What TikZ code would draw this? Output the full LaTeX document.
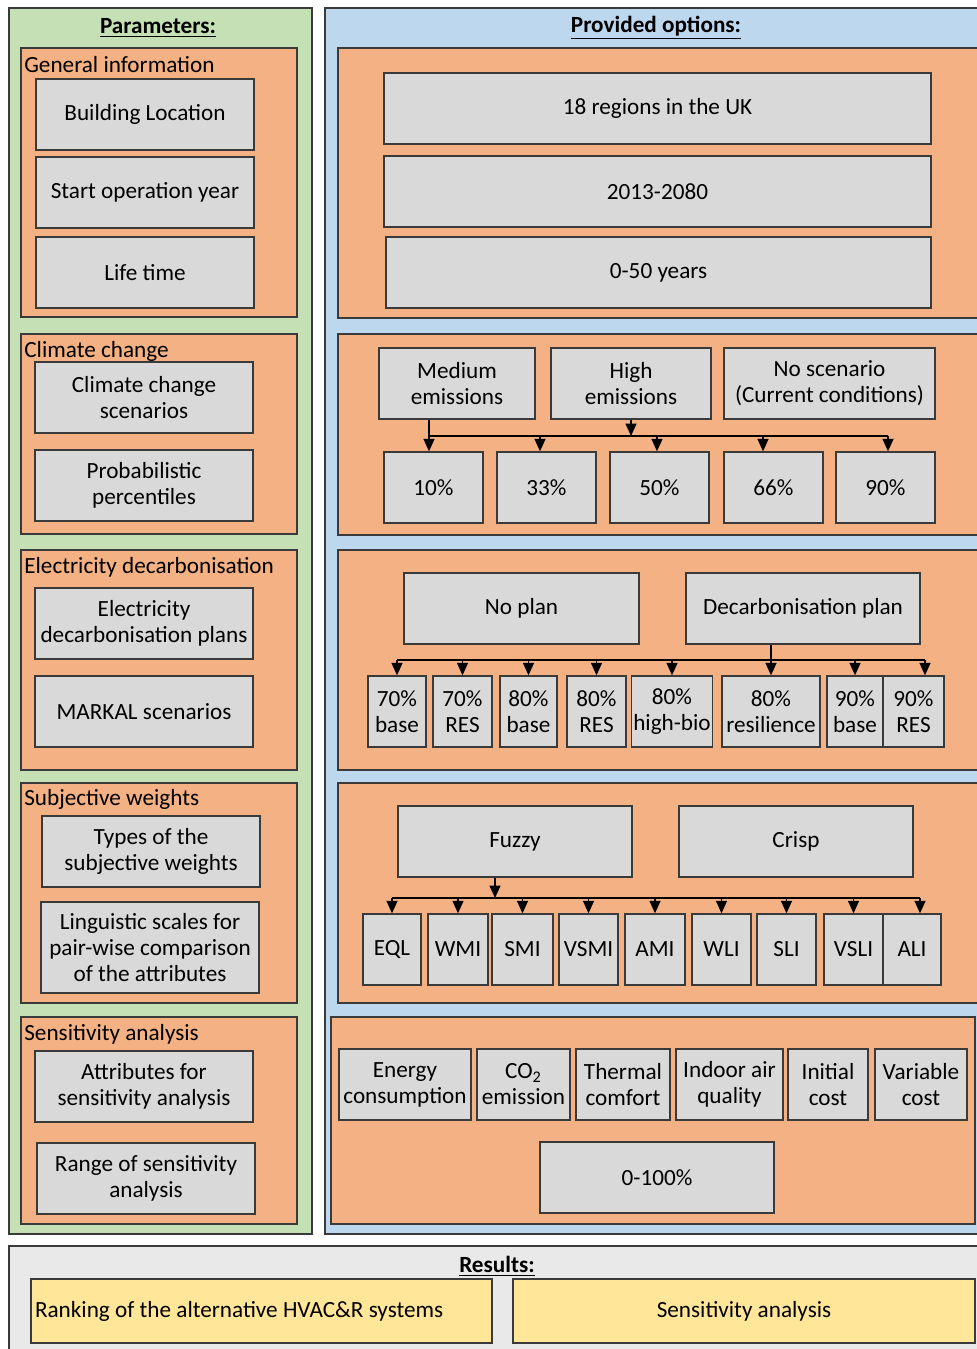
\documentclass[tikz,border=0pt]{standalone}
\usepackage{fontspec}
\setmainfont{Carlito}
\usetikzlibrary{arrows.meta, positioning}
\definecolor{paramgreen}{HTML}{C5E0B4}
\definecolor{optblue}{HTML}{BDD7EE}
\definecolor{grouporange}{HTML}{F4B183}
\definecolor{itemgray}{HTML}{D9D9D9}
\definecolor{resyellow}{HTML}{FFE699}
\definecolor{resgray}{HTML}{E9E9E9}
\definecolor{edgegray}{HTML}{3A3A3A}
\newcommand{\boxfont}{\fontsize{13.2}{14.8}\selectfont}
\tikzset{
  panel/.style={rectangle, draw=edgegray, line width=0.8pt, inner sep=0pt},
  greenpanel/.style={panel, fill=paramgreen},
  bluepanel/.style={panel, fill=optblue},
  grouppanel/.style={panel, fill=grouporange},
  itembox/.style={rectangle, draw=edgegray, line width=0.8pt, fill=itemgray, align=center, inner sep=1pt, minimum height=1.42cm},
  resbox/.style={rectangle, draw=edgegray, line width=0.8pt, fill=resyellow, minimum height=1.28cm, inner xsep=0.08cm},
  grouptitle/.style={anchor=west, inner sep=0pt},
  paneltitle/.style={font=\boxfont\bfseries, inner sep=0pt},
  bus/.style={line width=0.8pt},
  arr/.style={-{Triangle[length=2.5mm, width=2.2mm]}, line width=0.8pt},
}

\begin{document}
\begin{tikzpicture}[x=0.02cm, y=-0.02cm, font=\boxfont]
  \clip (0,0) rectangle (977,1349);
  \fill[white] (0,0) rectangle (977,1349);

  % Parameters column
  \node[greenpanel, minimum width=6.06cm, minimum height=24.52cm] (params) at (160.5,621) {};
  \node[paneltitle] (params-title) at (158,28) {\underline{Parameters:}};

  \node[grouppanel, minimum width=5.52cm, minimum height=5.38cm] (gen) at (159,182.5) {};
  \node[grouptitle] (gen-title) at (24,65) {General information};
  \node[itembox, minimum width=4.36cm] (loc) at (145,114.5) {Building Location};
  \node[itembox, minimum width=4.36cm] (year) at (145,192.5) {Start operation year};
  \node[itembox, minimum width=4.36cm] (life) at (145,272.5) {Life time};

  \node[grouppanel, minimum width=5.52cm, minimum height=4.0cm] (clim) at (159,434) {};
  \node[grouptitle] (clim-title) at (24,351) {Climate change};
  \node[itembox, minimum width=4.36cm] (scen) at (144,397.5) {Climate change\\scenarios};
  \node[itembox, minimum width=4.36cm] (perc) at (144,485.5) {Probabilistic\\percentiles};

  \node[grouppanel, minimum width=5.52cm, minimum height=4.4cm] (elec) at (159,660) {};
  \node[grouptitle] (elec-title) at (24,567) {Electricity decarbonisation};
  \node[itembox, minimum width=4.36cm] (plans) at (144,623.5) {Electricity\\decarbonisation plans};
  \node[itembox, minimum width=4.36cm] (markal) at (144,711.5) {MARKAL scenarios};

  \node[grouppanel, minimum width=5.52cm, minimum height=4.4cm] (subj) at (159,893) {};
  \node[grouptitle] (subj-title) at (24,799) {Subjective weights};
  \node[itembox, minimum width=4.36cm] (types) at (151,851.5) {Types of the\\subjective weights};
  \node[itembox, minimum width=4.36cm, minimum height=1.82cm] (ling) at (150,947.5) {Linguistic scales for\\pair-wise comparison\\of the attributes};

  \node[grouppanel, minimum width=5.52cm, minimum height=4.14cm] (sens) at (159,1120.5) {};
  \node[grouptitle] (sens-title) at (24,1034) {Sensitivity analysis};
  \node[itembox, minimum width=4.36cm] (attr) at (144,1086.5) {Attributes for\\sensitivity analysis};
  \node[itembox, minimum width=4.36cm] (range) at (146,1178.5) {Range of sensitivity\\analysis};

  % Provided options column
  \node[bluepanel, minimum width=13.3cm, minimum height=24.52cm] (opts) at (657.5,621) {};
  \node[paneltitle] (opts-title) at (656,28) {\underline{Provided options:}};

  % general information options
  \node[grouppanel, minimum width=13.04cm, minimum height=5.4cm] (o-gen) at (664,183) {};
  \node[itembox, minimum width=10.94cm] (regions) at (657.5,108.5) {18 regions in the UK};
  \node[itembox, minimum width=10.94cm] (years) at (657.5,191.5) {2013-2080};
  \node[itembox, minimum width=10.9cm] (span) at (658.5,272.5) {0-50 years};

  % climate change options
  \node[grouppanel, minimum width=13.04cm, minimum height=4.02cm] (o-clim) at (664,434.5) {};
  \node[itembox, minimum width=3.12cm] (med) at (457,383.5) {Medium\\emissions};
  \node[itembox, minimum width=3.2cm] (high) at (631,383.5) {High\\emissions};
  \node[itembox, minimum width=4.22cm] (noscen) at (829.5,383.5) {No scenario\\(Current conditions)};
  \node[itembox, minimum width=1.98cm] (p10) at (433.5,487.5) {10\%};
  \node[itembox, minimum width=1.98cm] (p33) at (546.5,487.5) {33\%};
  \node[itembox, minimum width=1.98cm] (p50) at (659.5,487.5) {50\%};
  \node[itembox, minimum width=1.98cm] (p66) at (773.5,487.5) {66\%};
  \node[itembox, minimum width=1.98cm] (p90) at (885.5,487.5) {90\%};

  \coordinate (ccbus) at (0,436);
  \foreach \n/\dx in {p10/-0.09, p33/-0.13, p50/-0.05, p66/-0.21, p90/0.05}
    \coordinate (in-\n) at ([xshift=\dx cm]\n.north);
  \draw[arr] (in-p10 |- med.south) -- (in-p10);
  \draw[bus] (in-p10 |- ccbus) -- (in-p90 |- ccbus);
  \draw[arr] (high.south) -- (high.south |- ccbus);
  \foreach \n in {p33, p50, p66, p90}
    \draw[arr] (in-\n |- ccbus) -- (in-\n);

  % electricity decarbonisation options
  \node[grouppanel, minimum width=13.04cm, minimum height=4.4cm] (o-elec) at (664,660) {};
  \node[itembox, minimum width=4.7cm] (noplan) at (521.5,608.5) {No plan};
  \node[itembox, minimum width=4.68cm] (decarb) at (803,608.5) {Decarbonisation plan};
  \node[itembox, minimum width=1.16cm] (d70b) at (397,711.5) {70\%\\base};
  \node[itembox, minimum width=1.18cm] (d70r) at (462.5,711.5) {70\%\\RES};
  \node[itembox, minimum width=1.14cm] (d80b) at (528.5,711.5) {80\%\\base};
  \node[itembox, minimum width=1.18cm] (d80r) at (596.5,711.5) {80\%\\RES};
  \node[itembox, minimum width=1.56cm] (d80h) at (672,711.5) {80\%\\high-bio};
  \node[itembox, minimum width=1.96cm] (d80s) at (771,711.5) {80\%\\resilience};
  \node[itembox, minimum width=1.12cm] (d90b) at (855,711.5) {90\%\\base};
  \node[itembox, minimum width=1.22cm] (d90r) at (913.5,711.5) {90\%\\RES};

  \coordinate (dcbus) at (0,660);
  \coordinate (in-d90r) at ([xshift=0.23cm]d90r.north);
  \draw[bus] (d70b.north |- dcbus) -- (in-d90r |- dcbus);
  \draw[arr] (d80s.north |- decarb.south) -- (d80s.north);
  \foreach \n in {d70b, d70r, d80b, d80r, d80h, d90b}
    \draw[arr] (\n.north |- dcbus) -- (\n.north);
  \draw[arr] (in-d90r |- dcbus) -- (in-d90r);

  % subjective weights options
  \node[grouppanel, minimum width=13.04cm, minimum height=4.4cm] (o-subj) at (664,893) {};
  \node[itembox, minimum width=4.68cm] (fuzzy) at (515,841.5) {Fuzzy};
  \node[itembox, minimum width=4.68cm] (crisp) at (796,841.5) {Crisp};
  \node[itembox, minimum width=1.16cm] (eql) at (392,949.5) {EQL};
  \node[itembox, minimum width=1.2cm] (wmi) at (458,949.5) {WMI};
  \node[itembox, minimum width=1.22cm] (smi) at (522.5,949.5) {SMI};
  \node[itembox, minimum width=1.18cm] (vsmi) at (588.5,949.5) {VSMI};
  \node[itembox, minimum width=1.2cm] (ami) at (655,949.5) {AMI};
  \node[itembox, minimum width=1.18cm] (wli) at (721.5,949.5) {WLI};
  \node[itembox, minimum width=1.18cm] (sli) at (786.5,949.5) {SLI};
  \node[itembox, minimum width=1.18cm] (vsli) at (853.5,949.5) {VSLI};
  \node[itembox, minimum width=1.16cm] (ali) at (912,949.5) {ALI};

  \coordinate (wtbus) at (0,898);
  \coordinate (fz-out) at ([xshift=-0.4cm]fuzzy.south);
  \coordinate (in-ali) at ([xshift=0.16cm]ali.north);
  \draw[bus] (eql.north |- wtbus) -- (in-ali |- wtbus);
  \draw[arr] (fz-out) -- (fz-out |- wtbus);
  \foreach \n in {eql, wmi, smi, vsmi, ami, wli, sli, vsli}
    \draw[arr] (\n.north |- wtbus) -- (\n.north);
  \draw[arr] (in-ali |- wtbus) -- (in-ali);

  % sensitivity analysis options
  \node[grouppanel, minimum width=12.88cm, minimum height=4.14cm] (o-sens) at (653,1120.5) {};
  \node[itembox, minimum width=2.64cm] (energy) at (405,1084.5) {Energy\\consumption};
  \node[itembox, minimum width=1.86cm] (co2) at (523.5,1084.5) {CO\textsubscript{2}\\emission};
  \node[itembox, minimum width=1.88cm] (thermal) at (623,1084.5) {Thermal\\comfort};
  \node[itembox, minimum width=2.14cm] (iaq) at (729.5,1084.5) {Indoor air\\quality};
  \node[itembox, minimum width=1.6cm] (initc) at (828,1084.5) {Initial\\cost};
  \node[itembox, minimum width=1.84cm] (varc) at (921,1084.5) {Variable\\cost};
  \node[itembox, minimum width=4.68cm] (pct) at (657,1177.5) {0-100\%};

  % Results
  \node[panel, fill=resgray, minimum width=19.62cm, minimum height=2.28cm] (results) at (499.5,1303) {};
  \node[paneltitle] (res-title) at (497,1266) {\underline{Results:}};
  \node[resbox, text width=9.06cm, align=flush left] (ranking) at (261.5,1311) {Ranking of the alternative HVAC\&R systems};
  \node[resbox, minimum width=9.24cm] (sensres) at (744,1311) {Sensitivity analysis};
\end{tikzpicture}
\end{document}
